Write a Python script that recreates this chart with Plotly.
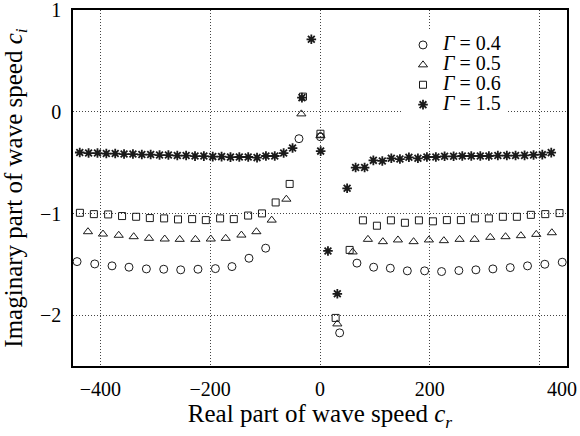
import plotly.graph_objects as go

# ---------------- data ----------------
g04_x = [-442.6, -410.4, -378.9, -348.0, -316.3, -284.7, -253.8, -222.3, -190.6, -160.4,
         -129.4, -99.0, -38.3, 0.8, 35.8, 67.3, 97.7, 128.1, 159.1, 190.6, 221.5, 253.0,
         284.0, 315.0, 346.6, 378.1, 409.6, 441.3]
g04_y = [-1.473, -1.496, -1.515, -1.528, -1.545, -1.548, -1.554, -1.548, -1.542, -1.522,
         -1.44, -1.341, -0.264, -0.245, -2.174, -1.488, -1.528, -1.538, -1.564, -1.564,
         -1.571, -1.561, -1.554, -1.545, -1.532, -1.515, -1.499, -1.479]

g05_x = [-422.7, -395.4, -366.7, -339.4, -311.5, -282.9, -255.6, -227.0, -199.0, -171.8,
         -143.2, -115.9, -88.0, -61.3, -34.0, 0.8, 31.6, 59.5, 87.3, 114.6, 142.0, 170.5,
         198.4, 225.7, 254.3, 281.6, 310.2, 338.0, 366.0, 394.0, 422.4]
g05_y = [-1.179, -1.202, -1.214, -1.228, -1.244, -1.251, -1.254, -1.254, -1.251, -1.244,
         -1.212, -1.179, -1.065, -0.859, -0.02, -0.235, -2.086, -1.378, -1.254, -1.277,
         -1.26, -1.277, -1.26, -1.267, -1.254, -1.254, -1.234, -1.228, -1.218, -1.205, -1.189]

g06_x = [-437.4, -412.0, -386.0, -360.6, -335.0, -310.0, -284.0, -258.7, -233.0, -208.0,
         -182.0, -157.0, -131.0, -105.7, -80.8, -55.3, -31.0, 0.8, 28.5, 54.0, 78.2, 103.7,
         129.2, 154.7, 180.2, 205.7, 231.2, 256.7, 282.2, 307.7, 333.2, 358.7, 384.2, 410.4, 436.4]
g06_y = [-0.993, -1.006, -1.009, -1.025, -1.032, -1.045, -1.048, -1.058, -1.055, -1.065,
         -1.048, -1.055, -1.02, -0.999, -0.891, -0.709, 0.15, -0.215, -2.027, -1.358, -1.067,
         -1.12, -1.067, -1.091, -1.067, -1.077, -1.065, -1.065, -1.048, -1.048, -1.032,
         -1.032, -1.013, -1.006, -0.996]

g15_x = [-437.7, -421.6, -405.4, -389.3, -373.1, -357.0, -340.8, -324.6, -308.5, -292.3,
         -276.2, -260.0, -243.9, -227.7, -211.6, -195.4, -179.3, -163.1, -147.0, -130.8,
         -114.7, -98.5, -82.4, -66.2, -50.0, -32.9, -15.8, 1.2, 14.5, 31.6, 49.4, 64.9,
         81.3, 97.2, 113.5, 129.9, 145.6, 162.0, 178.4, 194.8, 211.1, 227.0, 243.4, 259.2,
         275.6, 292.0, 307.7, 324.0, 340.4, 356.3, 372.7, 389.1, 405.0, 421.3]
g15_y = [-0.40, -0.405, -0.405, -0.41, -0.41, -0.415, -0.415, -0.42, -0.42, -0.425,
         -0.425, -0.43, -0.43, -0.435, -0.435, -0.44, -0.44, -0.445, -0.444, -0.444,
         -0.45, -0.434, -0.434, -0.405, -0.356, 0.14, 0.714, -0.386, -1.368, -1.79, -0.752,
         -0.548, -0.548, -0.477, -0.483, -0.457, -0.464, -0.447, -0.457, -0.444, -0.444,
         -0.437, -0.437, -0.434, -0.434, -0.434, -0.434, -0.43, -0.43, -0.43, -0.428,
         -0.424, -0.421, -0.401]

x_ticks = [-400, -200, 0, 200, 400]
x_tick_labels = ["\u2212400", "\u2212200", "0", "200", "400"]
y_ticks = [-2, -1, 0, 1]
y_tick_labels = ["\u22122", "\u22121", "0", "1"]

series_names = ["0.4", "0.5", "0.6", "1.5"]

# ---------------- figure ----------------
FONT = "Liberation Serif"
INK = "#1a1a1a"

def leg(v):
    return "<span style='font-size:20px'><i>\u0393</i> = " + v + "</span>"

fig = go.Figure()
fig.add_trace(go.Scatter(x=g04_x, y=g04_y, mode="markers", name=leg(series_names[0]),
                         marker=dict(symbol="circle-open", size=8, color=INK,
                                     line=dict(width=1, color=INK))))
fig.add_trace(go.Scatter(x=g05_x, y=g05_y, mode="markers", name=leg(series_names[1]),
                         marker=dict(symbol="triangle-up-open", size=8, color=INK,
                                     line=dict(width=1, color=INK))))
fig.add_trace(go.Scatter(x=g06_x, y=g06_y, mode="markers", name=leg(series_names[2]),
                         marker=dict(symbol="square-open", size=7, color=INK,
                                     line=dict(width=1, color=INK))))
fig.add_trace(go.Scatter(x=g15_x, y=g15_y, mode="markers", name=leg(series_names[3]),
                         marker=dict(symbol="asterisk-open", size=8, color=INK,
                                     line=dict(width=1.8, color=INK))))

# in the reference the last x tick label is pushed out to the right frame edge
shown_x_labels = x_tick_labels[:-1] + ["\u00a0" * 9 + x_tick_labels[-1]]

fig.update_layout(
    width=580, height=436,
    margin=dict(l=73, r=13, t=10, b=70),
    paper_bgcolor="white", plot_bgcolor="white",
    font=dict(family=FONT, size=20, color="black"),
    showlegend=True,
    legend=dict(x=(403 - 73) / 494, y=(366 - 30) / 356, xanchor="left", yanchor="top",
                bgcolor="white", borderwidth=0, font=dict(family=FONT, size=13, color="black"),
                tracegroupgap=0),
    xaxis=dict(range=[-450, 450], tickvals=x_ticks, ticktext=shown_x_labels,
               showgrid=True, gridcolor="#444", griddash="1px,2px", gridwidth=1,
               zeroline=False, showline=True, mirror=True, linecolor="black", linewidth=1.5,
               ticks="", ticklabelstandoff=4, automargin=False, ticklabeloverflow="allow",
               tickfont=dict(family=FONT, size=20, color="black"),
               title=dict(text="Real part of wave speed <i>c</i><sub><i>r</i></sub>",
                          font=dict(family=FONT, size=25, color="black"), standoff=6)),
    yaxis=dict(range=[-2.5, 1.002], tickvals=y_ticks, ticktext=y_tick_labels,
               showgrid=True, gridcolor="#444", griddash="1px,2px", gridwidth=1,
               zeroline=False, showline=True, mirror=True, linecolor="black", linewidth=1.5,
               ticks="", ticklabelstandoff=6, automargin=False, ticklabeloverflow="allow",
               tickfont=dict(family=FONT, size=20, color="black"),
               title=dict(text="Imaginary part of wave speed <i>c</i><sub><i>i</i></sub>",
                          font=dict(family=FONT, size=25, color="black"), standoff=10)),
)

fig.write_html("out.html")
